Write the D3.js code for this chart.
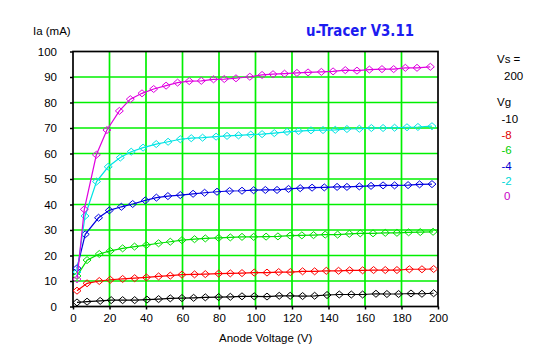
<!DOCTYPE html>
<html><head><meta charset="utf-8">
<script src="https://cdn.jsdelivr.net/npm/d3@7"></script>
<style>html,body{margin:0;padding:0;background:#fff;}svg{display:block;}</style>
</head><body>
<svg id="c" width="547" height="357"></svg>
<script>
const vgLabels = ["-10", "-8", "-6", "-4", "-2", "0"];
const vaM10 = [2.2, 7.7, 14.9, 20.9, 27.2, 33.8, 40.5, 46.9, 53.3, 59.7, 66.1, 72.5, 79.8, 86.2, 92.6, 99.3, 106.3, 113, 119, 125.8, 132.4, 139.2, 145.9, 152.5, 158.7, 166, 172, 178.4, 185.2, 191.2, 197.6];
const iaM10 = [1.6, 1.9, 2.2, 2.5, 2.5, 2.5, 2.7, 2.9, 3.2, 3.3, 3.4, 3.6, 3.7, 3.8, 4.0, 4.0, 3.9, 4.2, 4.2, 4.1, 4.2, 4.5, 4.7, 4.7, 4.7, 5.0, 4.9, 4.9, 5.1, 5.0, 5.2];
const vaM8 = [2.2, 7.7, 14.4, 20.4, 27.2, 33.8, 40.2, 46.9, 53.3, 59.7, 66.6, 72.5, 79.8, 86.2, 92.6, 99.3, 106.3, 112.7, 119.1, 125.8, 132.4, 138.8, 145.5, 151.6, 158.7, 164.7, 171.1, 177.5, 184.3, 191.2, 197.6];
const iaM8 = [6.2, 9.1, 10.0, 10.5, 10.8, 11.1, 11.4, 11.8, 12.1, 12.5, 12.6, 12.7, 12.9, 13.0, 13.1, 13.3, 13.3, 13.5, 13.5, 13.8, 13.8, 14.0, 14.0, 14.2, 14.2, 14.3, 14.3, 14.3, 14.6, 14.6, 14.7];
const vaM6 = [2.2, 7.7, 14.4, 20.4, 27.2, 33.7, 40.2, 46.9, 53.3, 59.7, 66.6, 72.5, 79.8, 86.2, 92.6, 99.0, 105.8, 112.3, 119.0, 125.4, 131.8, 138.2, 145.0, 151.4, 157.4, 164.4, 171.1, 177.5, 183.9, 190.3, 197.3];
const iaM6 = [12.0, 18.2, 20.6, 21.8, 22.8, 23.5, 24.1, 24.8, 25.4, 26.0, 26.4, 26.7, 26.9, 27.1, 27.3, 27.3, 27.4, 27.5, 27.8, 27.9, 28.0, 28.2, 28.2, 28.5, 28.7, 28.7, 28.9, 28.9, 29.1, 29.2, 29.3];
const vaM4 = [2.2, 6.7, 14.0, 19.9, 26.5, 32.7, 39.6, 45.7, 52.0, 58.8, 65.8, 72.1, 78.9, 85.8, 92.6, 99.0, 105.4, 111.8, 118.1, 124.5, 131.0, 137.7, 144.7, 150.1, 156.9, 163.3, 169.9, 176.2, 183.6, 189.9, 196.7];
const iaM4 = [15.0, 28.3, 34.8, 37.7, 39.1, 40.2, 41.6, 42.7, 43.3, 43.7, 44.2, 44.6, 45.0, 45.3, 45.4, 45.6, 45.7, 45.7, 46.1, 46.4, 46.6, 46.7, 46.9, 46.9, 47.1, 47.3, 47.5, 47.5, 47.6, 47.9, 48.0];
const vaM2 = [2.2, 6.6, 12.9, 19.3, 25.9, 31.9, 38.4, 45.6, 52.1, 58.8, 64.8, 71.0, 78.4, 84.4, 90.7, 97.4, 103.6, 110.3, 117.3, 123.6, 130.4, 137.0, 143.7, 150.1, 156.9, 163.5, 169.9, 176.2, 183.0, 189.0, 196.7];
const iaM2 = [13.5, 35.5, 49.0, 54.8, 58.4, 60.7, 62.3, 63.7, 64.6, 65.6, 66.0, 66.2, 66.6, 66.9, 67.1, 67.4, 67.6, 68.0, 68.5, 68.8, 69.1, 69.2, 69.3, 69.6, 69.7, 70.0, 70.0, 70.1, 70.3, 70.4, 70.7];
const va0 = [2.2, 6.2, 12.8, 18.6, 25.4, 31.4, 37.8, 44.2, 51.0, 57.3, 63.7, 70.3, 77.0, 82.9, 89.3, 96.9, 103.6, 109.6, 115.9, 122.7, 128.8, 136.1, 142.5, 149.2, 155.6, 162.4, 169.3, 175.7, 182.1, 188.5, 195.8];
const ia0 = [10.7, 38.1, 59.5, 69.2, 76.7, 81.3, 83.6, 85.3, 86.6, 87.8, 88.4, 88.5, 89.1, 89.2, 89.5, 90.1, 90.8, 91.1, 91.3, 91.6, 91.8, 92.0, 92.2, 92.7, 92.5, 92.9, 93.1, 93.1, 93.6, 93.6, 94.0];
const xTicks = [0, 20, 40, 60, 80, 100, 120, 140, 160, 180, 200];
const yTicks = [0, 10, 20, 30, 40, 50, 60, 70, 80, 90, 100];
const vsValue = "200";

const seriesVa = [vaM10, vaM8, vaM6, vaM4, vaM2, va0];
const seriesIa = [iaM10, iaM8, iaM6, iaM4, iaM2, ia0];
const colors = ["#000000", "#ff0000", "#00e000", "#0000e0", "#00e4e4", "#e000e0"];
const legendColors = ["#000000", "#e00000", "#00d000", "#0000d0", "#00d8d8", "#c800c8"];

const svg = d3.select("#c");
const L = 73, R = 438, T = 51.5, B = 306.5;
const x = d3.scaleLinear().domain([0, 200]).range([L, R]);
const y = d3.scaleLinear().domain([0, 100]).range([B, T]);
const font = "'Liberation Sans', Arial, sans-serif";

// grid
const grid = svg.append("g").attr("stroke", "#00f000").attr("stroke-width", 1.7);
grid.selectAll(".gx").data(xTicks.slice(1, -1)).enter().append("line")
  .attr("x1", d => x(d)).attr("x2", d => x(d)).attr("y1", T).attr("y2", B);
grid.selectAll(".gy").data(yTicks.slice(1, -1)).enter().append("line")
  .attr("x1", L).attr("x2", R).attr("y1", d => y(d)).attr("y2", d => y(d));

// frame
svg.append("rect").attr("x", L).attr("y", T).attr("width", R - L).attr("height", B - T)
  .attr("fill", "none").attr("stroke", "#000").attr("stroke-width", 1.7);

// axes
const ax = svg.append("g").attr("transform", `translate(0,${B})`)
  .call(d3.axisBottom(x).tickValues(xTicks).tickFormat(d3.format("d")).tickSize(3).tickPadding(4));
const ay = svg.append("g").attr("transform", `translate(${L},0)`)
  .call(d3.axisLeft(y).tickValues(yTicks).tickFormat(d3.format("d")).tickSize(3).tickPadding(13));
[ax, ay].forEach(g => {
  g.select(".domain").remove();
  g.selectAll(".tick line").attr("stroke", "#000").attr("stroke-width", 1.5);
  g.selectAll("text").attr("font-family", font).attr("font-size", 11.5).attr("fill", "#000");
});

// series
const line = d3.line().x(d => x(d[0])).y(d => y(d[1]));
const diamond = "M0,-3.5L4,0L0,3.5L-4,0Z";
seriesVa.forEach((vas, i) => {
  const pts = vas.map((v, j) => [v, seriesIa[i][j]]);
  const g = svg.append("g");
  g.append("path").datum(pts).attr("d", line).attr("fill", "none")
    .attr("stroke", colors[i]).attr("stroke-width", 1.2);
  g.selectAll("path.m").data(pts).enter().append("path").attr("class", "m")
    .attr("d", diamond)
    .attr("transform", d => `translate(${x(d[0])},${y(d[1])})`)
    .attr("fill", "none").attr("stroke", colors[i]).attr("stroke-width", 1);
});

// texts
svg.append("text").attr("x", 33).attr("y", 35).attr("font-family", font).attr("font-size", 11.5)
  .text("Ia (mA)");
svg.append("text").attr("x", 219).attr("y", 342).attr("font-family", font).attr("font-size", 11.5)
  .text("Anode Voltage (V)");
svg.append("text").attr("x", 306).attr("y", 36).attr("font-family", "'Comic Sans MS', 'DejaVu Sans', sans-serif")
  .attr("font-size", 15).attr("font-weight", "bold").attr("fill", "#1c1cf0")
  .attr("textLength", 108).attr("lengthAdjust", "spacingAndGlyphs")
  .text("u-Tracer V3.11");

svg.append("text").attr("x", 497).attr("y", 63).attr("font-family", font).attr("font-size", 11.5).text("Vs =");
svg.append("text").attr("x", 504).attr("y", 80).attr("font-family", font).attr("font-size", 11.5).text(vsValue);
svg.append("text").attr("x", 497).attr("y", 106).attr("font-family", font).attr("font-size", 11.5).text("Vg");
const legY = [123, 138.5, 154, 170, 185, 200];
vgLabels.forEach((t, i) => {
  svg.append("text").attr("x", t === "0" ? 504 : 501.5).attr("y", legY[i])
    .attr("font-family", font).attr("font-size", 11.5).attr("fill", legendColors[i]).text(t);
});
</script>
</body></html>
